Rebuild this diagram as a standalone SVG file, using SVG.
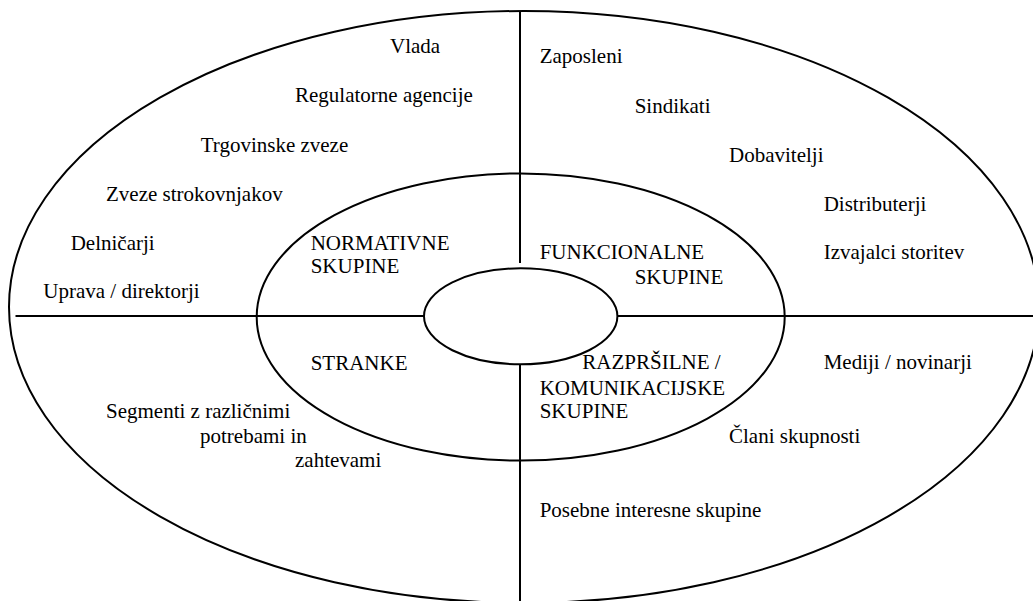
<svg xmlns="http://www.w3.org/2000/svg" width="1033" height="601" viewBox="0 0 1033 601">
<style>
.s{fill:none;stroke:#000;stroke-width:2}
.t text{font-family:'Liberation Serif','Times New Roman','DejaVu Serif',serif;font-size:21px;fill:#000}
</style>
<rect width="1033" height="601" fill="#fff"/>
<g id="outer"><ellipse class="s" cx="524" cy="307" rx="515" ry="296"/></g>
<g id="middle"><ellipse class="s" cx="520.7" cy="317" rx="264" ry="143.6"/></g>
<g id="core"><ellipse class="s" cx="520.7" cy="316.3" rx="96.7" ry="48"/></g>
<g id="connectors">
<line class="s" x1="520" y1="11" x2="520" y2="263"/>
<line class="s" x1="520" y1="364" x2="520" y2="601"/>
<line class="s" x1="15.5" y1="316" x2="424" y2="316"/>
<line class="s" x1="617.4" y1="316" x2="1033" y2="316"/>
</g>
<g id="normative" class="t">
<text x="310.7" y="250">NORMATIVNE</text>
<text x="310.7" y="273.3">SKUPINE</text>
<text x="390" y="52.7">Vlada</text>
<text x="295" y="101.7">Regulatorne agencije</text>
<text x="200.7" y="151.7">Trgovinske zveze</text>
<text x="106" y="200.7">Zveze strokovnjakov</text>
<text x="70.7" y="250">Delničarji</text>
<text x="43.3" y="298.3">Uprava / direktorji</text>
</g>
<g id="functional" class="t">
<text x="539.7" y="259.3">FUNKCIONALNE</text>
<text x="634.7" y="284">SKUPINE</text>
<text x="539.7" y="63.3">Zaposleni</text>
<text x="634.7" y="112.7">Sindikati</text>
<text x="729" y="161.7">Dobavitelji</text>
<text x="823.7" y="210.7">Distributerji</text>
<text x="823.7" y="259.3">Izvajalci storitev</text>
</g>
<g id="customers" class="t">
<text x="310.7" y="370">STRANKE</text>
<text x="106" y="418.3">Segmenti z različnimi</text>
<text x="200" y="442.7">potrebami in</text>
<text x="295" y="467.3">zahtevami</text>
</g>
<g id="diffuse" class="t">
<text x="582.3" y="369.3">RAZPRŠILNE /</text>
<text x="539.7" y="395">KOMUNIKACIJSKE</text>
<text x="539.7" y="418.3">SKUPINE</text>
<text x="823.7" y="369.3">Mediji / novinarji</text>
<text x="729" y="443.3">Člani skupnosti</text>
<text x="539.7" y="517.3">Posebne interesne skupine</text>
</g>
</svg>
